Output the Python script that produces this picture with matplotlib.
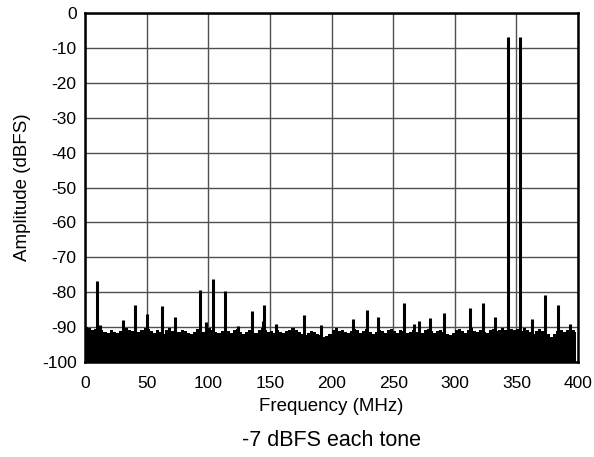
import numpy as np
import matplotlib
matplotlib.use("Agg")
import matplotlib.pyplot as plt

plt.rcParams['font.family'] = ['Liberation Sans', 'DejaVu Sans']
plt.rcParams['axes.unicode_minus'] = False

# Noise floor (top of the noise, dBFS), one value every 2.5 MHz from 0 MHz
noise_step_mhz = 2.5
noise_floor_db = [
    -89.9, -90.3, -90.8, -90.5, -91.2, -90.7, -91.4, -91.6, -90.9, -91.5,
    -91.8, -91.2, -90.8, -90.2, -90.7, -91.1, -91.7, -91.3, -90.7, -90.4,
    -90.6, -91.1, -91.6, -90.8, -91.3, -91.9, -90.9, -90.4, -91.2, -91.8,
    -91.4, -90.7, -91.1, -91.6, -92.0, -91.3, -90.6, -90.9, -91.5, -90.5,
    -90.4, -90.9, -91.3, -91.7, -91.0, -90.6, -91.2, -91.6, -90.9, -90.5,
    -91.3, -91.9, -91.4, -90.8, -91.1, -91.6, -90.7, -90.3, -90.9, -91.3,
    -91.1, -91.6, -90.8, -91.3, -91.8, -91.2, -90.7, -90.4, -90.9, -91.4,
    -91.9, -92.2, -91.6, -91.1, -91.4, -92.1, -92.4, -92.9, -92.6, -92.1,
    -90.8, -90.4, -91.1, -90.7, -91.4, -91.8, -91.2, -90.6, -90.9, -91.6,
    -91.1, -90.5, -91.3, -91.9, -91.4, -90.8, -91.2, -91.7, -90.9, -90.6,
    -91.1, -91.6, -90.7, -91.2, -91.8, -91.3, -90.8, -91.4, -92.0, -91.6,
    -90.9, -90.5, -91.1, -91.7, -91.2, -90.7, -91.3, -91.9, -92.2, -91.6,
    -90.9, -90.5, -91.2, -91.6, -90.8, -90.4, -91.1, -91.5, -90.7, -91.3,
    -91.8, -90.9, -90.6, -91.2, -90.7, -90.2, -90.8, -91.3, -90.5, -90.9,
    -90.6, -91.1, -90.4, -90.8, -91.4, -91.9, -91.2, -90.6, -91.1, -91.6,
    -92.1, -92.7, -92.0, -91.1, -90.7, -91.3, -90.8, -90.4, -90.9, -91.3,
]

# Spurs and tones (frequency in MHz, amplitude in dBFS)
spur_freq_mhz = [10.0, 12.0, 30.6, 40.6, 50.6, 62.7, 73.3, 93.3, 98.2, 103.9,
                 113.8, 124.0, 135.2, 144.2, 145.0, 155.0, 178.0, 191.5, 217.7,
                 228.5, 237.7, 258.8, 267.2, 270.7, 280.2, 291.5, 312.6, 322.9,
                 332.9, 362.9, 373.2, 383.8, 393.5]
spur_level_db = [-76.9, -89.4, -88.0, -83.7, -86.3, -84.0, -87.1, -79.4, -88.5, -76.1,
                 -79.6, -89.7, -85.5, -88.2, -83.7, -89.0, -86.6, -89.4, -87.8,
                 -85.0, -87.0, -83.1, -89.2, -88.2, -87.3, -86.1, -84.4, -83.1,
                 -87.1, -87.6, -80.8, -83.7, -89.2]
tone_freq_mhz = [342.9, 352.9]
tone_level_db = [-6.8, -6.8]

x_ticks = [0, 50, 100, 150, 200, 250, 300, 350, 400]
y_ticks = [0, -10, -20, -30, -40, -50, -60, -70, -80, -90, -100]

fig = plt.figure(figsize=(5.94, 4.57), dpi=100)
ax = fig.add_axes([85/594, 1-362/457, (578-85)/594, (362-13)/457])

noise_freq = np.arange(len(noise_floor_db)) * noise_step_mhz + noise_step_mhz / 2
ax.fill_between(noise_freq, -100, noise_floor_db, step='mid', color='black', lw=0, zorder=3)
ax.fill_between([0, noise_step_mhz], -100, noise_floor_db[0], color='black', lw=0, zorder=3)
ax.vlines(spur_freq_mhz, -100, spur_level_db, colors='black', lw=2.2, zorder=4)
ax.vlines(tone_freq_mhz, -100, tone_level_db, colors='black', lw=2.2, zorder=4)

ax.set_xlim(0, 400)
ax.set_ylim(-100, 0)
ax.set_xticks(x_ticks)
ax.set_yticks(y_ticks)
ax.grid(True, color='#505050', lw=1.0, zorder=1)
ax.set_axisbelow(True)
ax.tick_params(length=0, labelsize=12.5, colors='black')
ax.tick_params(axis='x', pad=10)
ax.tick_params(axis='y', pad=6)
for s in ax.spines.values():
    s.set_linewidth(1.8)
    s.set_color('black')
    s.set_zorder(5)

ax.set_xlabel('Frequency (MHz)', fontsize=13.5, labelpad=5)
ax.set_ylabel('Amplitude (dBFS)', fontsize=13.5, labelpad=8)
fig.text((85+578)/2/594, 1-441/457, '-7 dBFS each tone', ha='center', va='center', fontsize=15.5)

fig.savefig('out.png', dpi=100)
